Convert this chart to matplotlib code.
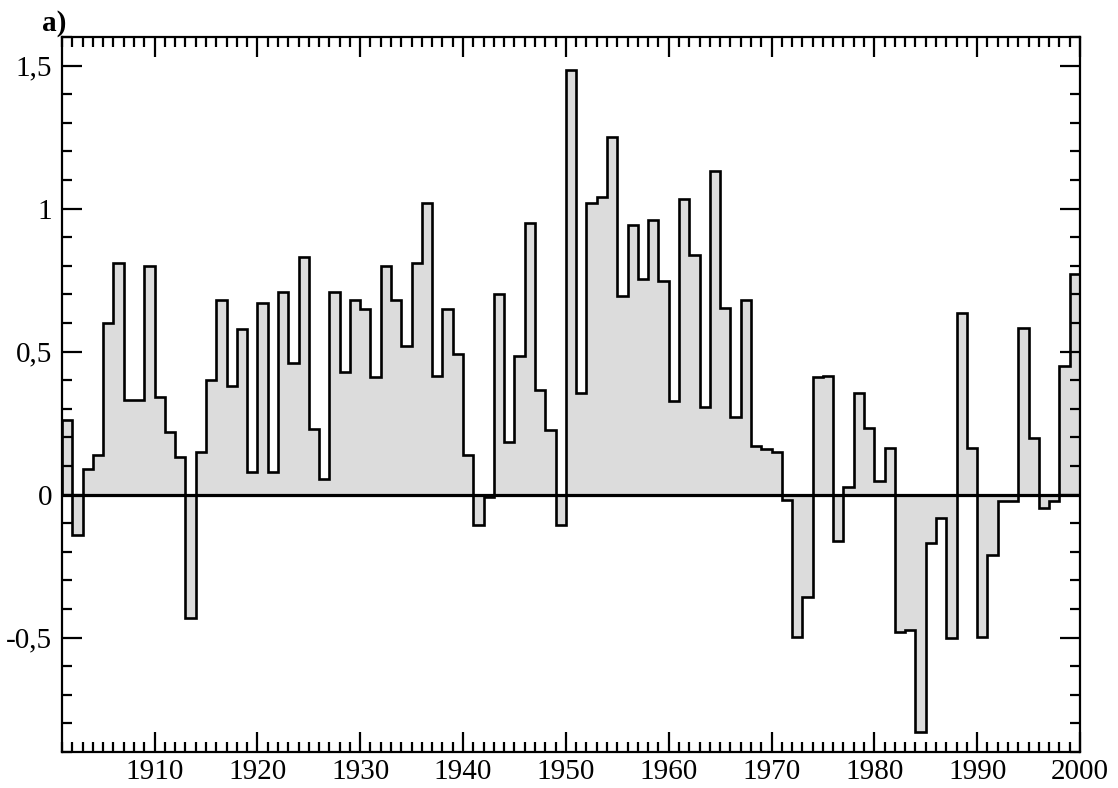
import numpy as np
import matplotlib.pyplot as plt
from matplotlib.ticker import MultipleLocator, FuncFormatter

# yearly anomalies, each bar covers [year, year+1]
years = np.arange(1901, 2000)
values = [
    0.26, -0.14, 0.09, 0.14, 0.60, 0.81, 0.33, 0.33, 0.80, 0.34,   # 1901-1910
    0.22, 0.13, -0.43, 0.15, 0.40, 0.68, 0.38, 0.58, 0.08, 0.67,   # 1911-1920
    0.08, 0.71, 0.46, 0.83, 0.23, 0.055, 0.71, 0.43, 0.68, 0.65,   # 1921-1930
    0.41, 0.80, 0.68, 0.52, 0.81, 1.02, 0.415, 0.65, 0.49, 0.14,   # 1931-1940
    -0.105, -0.01, 0.70, 0.185, 0.485, 0.95, 0.365, 0.225, -0.105, 1.485,  # 1941-1950
    0.354, 1.02, 1.042, 1.25, 0.693, 0.944, 0.755, 0.961, 0.746, 0.328,   # 1951-1960
    1.032, 0.839, 0.307, 1.131, 0.654, 0.272, 0.681, 0.171, 0.161, 0.15,  # 1961-1970
    -0.018, -0.498, -0.359, 0.41, 0.413, -0.163, 0.027, 0.355, 0.234, 0.048,  # 1971-1980
    0.163, -0.482, -0.473, -0.831, -0.17, -0.082, -0.50, 0.635, 0.163, -0.498,  # 1981-1990
    -0.211, -0.022, -0.022, 0.584, 0.199, -0.048, -0.022, 0.448, 0.773,   # 1991-1999
]
edges = np.append(years, years[-1] + 1)

plt.rcParams['font.family'] = ['Liberation Serif', 'DejaVu Serif']

fig = plt.figure(figsize=(11.18, 7.88), dpi=100)
ax = fig.add_axes([62/1118, 1-752/788, (1080-62)/1118, (752-37)/788])

ax.stairs(values, edges, baseline=0, fill=True, color='#dcdcdc', lw=0)
ax.stairs(values, edges, baseline=0, color='black', lw=1.9)
ax.axhline(0, color='black', lw=2.3)

ax.set_xlim(1901, 2000)
ax.set_ylim(-0.9, 1.6)

ax.xaxis.set_major_locator(MultipleLocator(10))
ax.xaxis.set_minor_locator(MultipleLocator(1))
ax.yaxis.set_major_locator(MultipleLocator(0.5))
ax.yaxis.set_minor_locator(MultipleLocator(0.1))

def comma(v, pos):
    v = round(v, 3)
    if v == 0:
        return '0'
    return f'{v:g}'.replace('.', ',')

ax.yaxis.set_major_formatter(FuncFormatter(comma))

ax.tick_params(which='both', direction='in', top=True, right=True, width=1.6,
               labelsize=21)
ax.tick_params(which='major', length=14.5)
ax.tick_params(which='minor', length=7.5)
ax.tick_params(axis='x', pad=5)
ax.tick_params(axis='y', pad=7)
for s in ax.spines.values():
    s.set_linewidth(1.6)

fig.text(42/1118, 1-31/788, 'a)', fontsize=21, fontweight='bold', ha='left', va='baseline')

fig.savefig('out.png', dpi=100)
